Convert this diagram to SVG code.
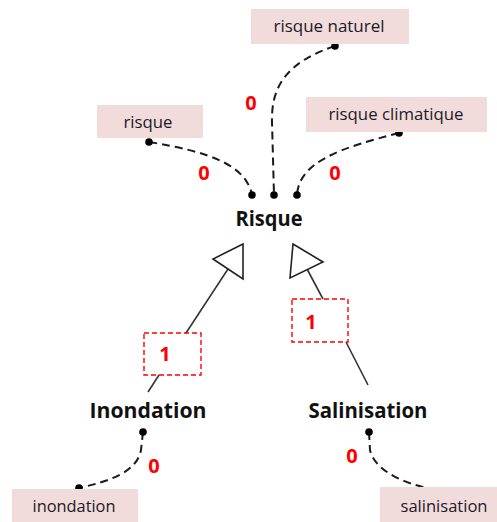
<svg xmlns="http://www.w3.org/2000/svg" width="497" height="522" viewBox="0 0 497 522">
<style>
.lbl{fill:#F2DCDB}
.lt{font-family:"Open Sans","Liberation Sans",sans-serif;font-size:16.5px;fill:#1a1a26;text-anchor:middle}
.cls{font-family:"Open Sans","Liberation Sans",sans-serif;font-size:21px;font-weight:bold;fill:#111;text-anchor:middle}
.card{font-family:"Open Sans","Liberation Sans",sans-serif;font-size:20px;font-weight:bold;fill:#ff0000;text-anchor:middle}
.dash{fill:none;stroke:#1a1a1a;stroke-width:2;stroke-dasharray:8,5}
.dot{fill:#000}
.gen{fill:none;stroke:#333;stroke-width:1.6}
.tri{fill:#fff;stroke:#222;stroke-width:1.6;stroke-linejoin:miter}
.cbox{fill:none;stroke:#ff0000;stroke-width:1.4;stroke-dasharray:5,3}
</style>
<g id="connectors">
<path class="dash" d="M335,46 C287,62 271,86 272,122 L274,195"/>
<path class="dash" d="M149,142 C210,152 246,165 252,195"/>
<path class="dash" d="M399,133 C340,148 299,162 297,195"/>
<path class="dash" d="M143,432 L141,450 C137,472 110,481 79,488"/>
<path class="dash" d="M369,432 L370,450 C376,476 420,489 447,491"/>
<circle class="dot" cx="335" cy="46" r="3.8"/>
<circle class="dot" cx="274" cy="195" r="3.8"/>
<circle class="dot" cx="149" cy="142" r="3.8"/>
<circle class="dot" cx="252" cy="195" r="3.8"/>
<circle class="dot" cx="399" cy="133" r="3.8"/>
<circle class="dot" cx="297" cy="195" r="3.8"/>
<circle class="dot" cx="143" cy="432" r="3.8"/>
<circle class="dot" cx="79" cy="488" r="3.8"/>
<circle class="dot" cx="369" cy="432" r="3.8"/>
<circle class="dot" cx="447" cy="491" r="3.8"/>
<text class="card" x="251" y="110">0</text>
<text class="card" x="204" y="180">0</text>
<text class="card" x="335" y="180">0</text>
<text class="card" x="154" y="473">0</text>
<text class="card" x="352" y="463">0</text>
<line class="gen" x1="148" y1="392" x2="159" y2="375"/>
<line class="gen" x1="186" y1="333" x2="228" y2="269"/>
<polygon class="tri" points="243,244 213,259 243,279"/>
<line class="gen" x1="368" y1="385" x2="346" y2="342"/>
<line class="gen" x1="323" y1="299" x2="307" y2="269"/>
<polygon class="tri" points="293,244 323,262 290,278"/>
<rect class="cbox" x="144" y="333" width="57" height="42"/>
<text class="card" x="165" y="361">1</text>
<rect class="cbox" x="292" y="299" width="56" height="43"/>
<text class="card" x="311" y="329">1</text>
</g>
<g id="risque-naturel">
<rect class="lbl" x="251" y="9" width="158" height="35"/>
<text class="lt" x="329" y="32" textLength="111" lengthAdjust="spacingAndGlyphs">risque naturel</text>
</g>
<g id="risque">
<rect class="lbl" x="97" y="105" width="106" height="33"/>
<text class="lt" x="148" y="128" textLength="49" lengthAdjust="spacingAndGlyphs">risque</text>
</g>
<g id="risque-climatique">
<rect class="lbl" x="306" y="97" width="181" height="35"/>
<text class="lt" x="396" y="120" textLength="135" lengthAdjust="spacingAndGlyphs">risque climatique</text>
</g>
<g id="Risque">
<text class="cls" x="269" y="226" textLength="67" lengthAdjust="spacingAndGlyphs">Risque</text>
</g>
<g id="Inondation">
<text class="cls" x="148" y="418" textLength="117" lengthAdjust="spacingAndGlyphs">Inondation</text>
</g>
<g id="Salinisation">
<text class="cls" x="368" y="418" textLength="119" lengthAdjust="spacingAndGlyphs">Salinisation</text>
</g>
<g id="inondation">
<rect class="lbl" x="12" y="489" width="126" height="35"/>
<text class="lt" x="74" y="512" textLength="83" lengthAdjust="spacingAndGlyphs">inondation</text>
</g>
<g id="salinisation">
<rect class="lbl" x="380" y="487" width="120" height="37"/>
<text class="lt" x="444" y="512" textLength="87" lengthAdjust="spacingAndGlyphs">salinisation</text>
</g>
</svg>
